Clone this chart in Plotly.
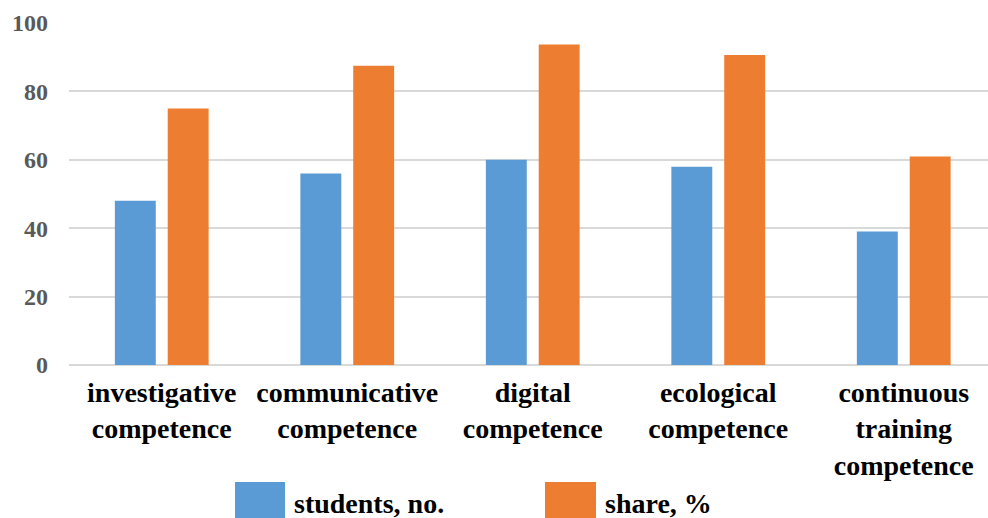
import plotly.graph_objects as go

# Competence categories (multi-line tick labels)
categories = [
    "investigative<br>competence",
    "communicative<br>competence",
    "digital<br>competence",
    "ecological<br>competence",
    "continuous<br>training<br>competence",
]
students_no = [48, 56, 60, 58, 39]
share_pct = [75.0, 87.5, 93.75, 90.63, 60.94]
series_names = ["students, no.", "share, %"]
y_ticks = [0, 20, 40, 60, 80, 100]

BLUE = "#5B9BD5"
ORANGE = "#ED7D31"
GRID = "#D9D9D9"
SERIF = "'Times New Roman', 'Liberation Serif', 'DejaVu Serif', serif"

W, H = 988, 518
ML, MR, MT, MB = 69, 0, 23, 153
plot_w = W - ML - MR
plot_h = H - MT - MB
cat_w = 185.5  # pixel width of one category slot

fig = go.Figure()
fig.add_trace(go.Bar(x=list(range(len(categories))), y=students_no,
                     name=series_names[0], marker_color=BLUE,
                     marker_line_width=0))
fig.add_trace(go.Bar(x=list(range(len(categories))), y=share_pct,
                     name=series_names[1], marker_color=ORANGE,
                     marker_line_width=0))


def px_to_paper_x(px):
    return (px - ML) / plot_w


def px_to_paper_y(py):
    return (H - MB - py) / plot_h


# Legend: large square swatches with bold labels underneath the chart
legend_items = [(235, 285, BLUE, series_names[0]),
                (545, 596, ORANGE, series_names[1])]
shapes = []
annotations = []
for x0, x1, col, label in legend_items:
    shapes.append(dict(type="rect", xref="paper", yref="paper",
                       x0=px_to_paper_x(x0), x1=px_to_paper_x(x1),
                       y0=px_to_paper_y(482), y1=px_to_paper_y(530),
                       fillcolor=col, line_width=0, layer="above"))
    annotations.append(dict(xref="paper", yref="paper",
                            x=px_to_paper_x(x1 + 7), y=px_to_paper_y(503),
                            xanchor="left", yanchor="middle",
                            text=f"<b>{label}</b>", showarrow=False,
                            font=dict(family=SERIF, size=28, color="#000000")))

fig.update_layout(
    width=W, height=H,
    margin=dict(l=ML, r=MR, t=MT, b=MB, pad=0),
    paper_bgcolor="white", plot_bgcolor="white",
    font=dict(family=SERIF),
    barmode="group", bargap=0.43, bargroupgap=0.226,
    showlegend=False,
    shapes=shapes, annotations=annotations,
    xaxis=dict(
        range=[-0.5, -0.5 + plot_w / cat_w],
        tickmode="array", tickvals=list(range(len(categories))),
        ticktext=[f"<b>{c}</b>" for c in categories],
        tickfont=dict(family=SERIF, size=28, color="#000000"),
        showgrid=False, zeroline=False, showline=False, ticks="",
        ticklabelstandoff=8,
    ),
    yaxis=dict(
        range=[0, 100], tickvals=y_ticks,
        ticktext=[f"<b>{v}</b>" for v in y_ticks],
        tickfont=dict(family=SERIF, size=24, color="#595959"),
        showgrid=True, gridcolor=GRID, gridwidth=2,
        zeroline=True, zerolinecolor=GRID, zerolinewidth=2,
        showline=False, ticks="", ticklabelstandoff=20,
    ),
)

fig.write_html("out.html")
